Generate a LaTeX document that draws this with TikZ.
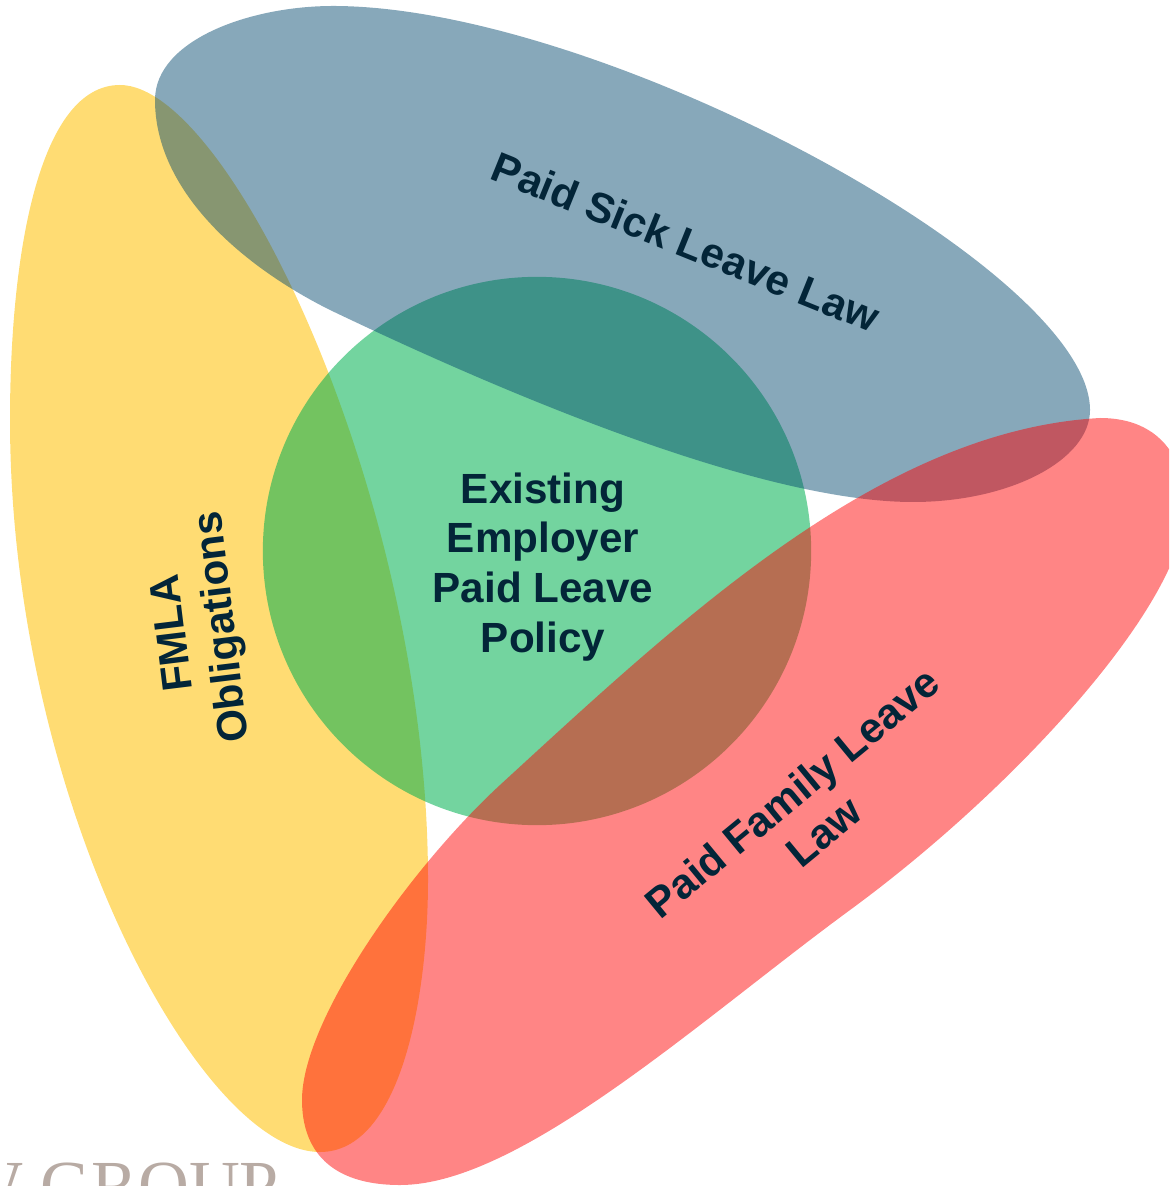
\documentclass[tikz,border=0pt]{standalone}
\usepackage{fontspec}
\setmainfont{Liberation Sans}
\newfontfamily\logofont{Liberation Serif}
\usetikzlibrary{positioning}

\definecolor{fmlagold}{HTML}{FFC000}
\definecolor{sickblue}{RGB}{5,74,111}
\definecolor{familyred}{HTML}{FF0000}
\definecolor{coregreen}{HTML}{00B050}
\definecolor{labelnavy}{HTML}{032538}
\definecolor{logogrey}{HTML}{B8ABA4}

\begin{document}
\begin{tikzpicture}[x=0.01cm, y=-0.01cm,
    fmlablob/.style={fill=fmlagold, fill opacity=0.55},
    sickblob/.style={fill=sickblue, fill opacity=0.48},
    familyblob/.style={fill=familyred, fill opacity=0.48},
    lbl/.style={font=\bfseries\fontsize{12}{14.2}\selectfont, text=labelnavy, align=center, inner sep=0pt}]
    \useasboundingbox (0,0) rectangle (1169,1186);
    \clip (0,0) rectangle (1169,1186);

    % FMLA blob (bottom layer)
    \fill[fmlablob] (120,85) .. controls (40,85) and (10,250) .. (10,420)
        .. controls (10,800) and (200,1152) .. (320,1152)
        .. controls (400,1152) and (428,1000) .. (428,880)
        .. controls (428,500) and (230,85) .. (120,85) -- cycle;

    % Existing policy circle
    \node[circle, fill=coregreen, fill opacity=0.55, inner sep=0pt,
          minimum size=5.48cm] (core) at (537,551) {};

    % Paid sick leave blob
    \fill[sickblob] (155,100) .. controls (155,40) and (250,6) .. (333,6)
        .. controls (600,6) and (1090,270) .. (1090,410)
        .. controls (1090,460) and (1010,502) .. (913,502)
        .. controls (780,502) and (560,420) .. (330,310)
        .. controls (240,265) and (155,190) .. (155,100) -- cycle;

    % Paid family leave blob (top layer)
    \fill[familyblob] (302,1100) .. controls (302,1020) and (410,868) .. (500,785)
        .. controls (680,620) and (880,430) .. (1100,418)
        .. controls (1180,418) and (1195,490) .. (1180,540)
        .. controls (1150,640) and (1000,800) .. (850,910)
        .. controls (700,1020) and (520,1185) .. (400,1185)
        .. controls (330,1185) and (302,1150) .. (302,1100) -- cycle;

    % Labels
    \node[lbl] (coretext) at (543,567) {Existing\\Employer\\Paid Leave\\Policy};
    \node[lbl, rotate=-22] (sicktext) at (686,242) {Paid Sick Leave Law};
    \node[lbl, rotate=39.5] (familytext) at (808,812) {Paid Family Leave\\Law};
    \node[lbl, rotate=97] (fmlatext) at (200,630) {FMLA\\Obligations};

    % cut-off logo
    \node[anchor=base west, inner sep=0pt, text=logogrey,
          font=\logofont\fontsize{20}{20}\selectfont] (logo) at (-44,1209) {W GROUP};
\end{tikzpicture}
\end{document}
